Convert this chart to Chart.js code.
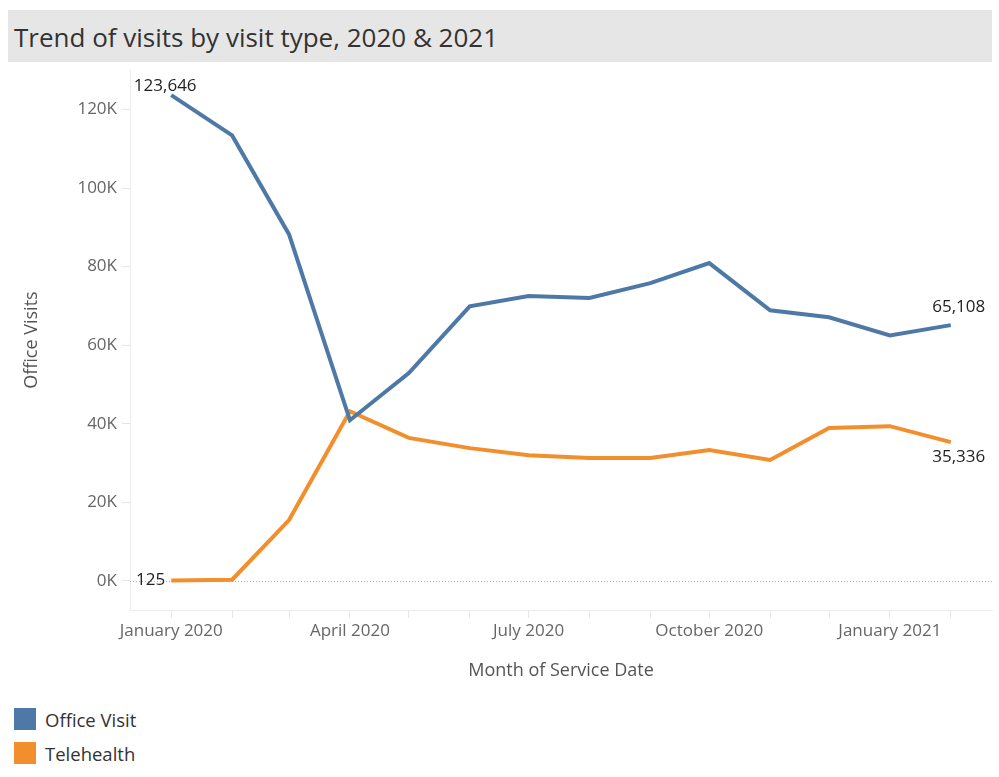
<!DOCTYPE html>
<html>
<head>
<meta charset="utf-8">
<script src="https://cdn.jsdelivr.net/npm/chart.js@4"></script>
<style>
  body { margin: 0; background: #fff; font-family: "Open Sans", sans-serif; }
  #title {
    position: absolute; left: 8px; top: 10px; width: 984px; height: 52px;
    background: #e6e6e6; color: #333; font-size: 26px; line-height: 54px;
    padding-left: 6px; box-sizing: border-box; z-index: 1;
  }
  #wrap { position: absolute; left: 0; top: 55px; width: 999px; height: 637px; }
  #legend { position: absolute; left: 14px; top: 702px; font-size: 18.5px; color: #333; }
  .item { display: flex; align-items: center; height: 34px; }
  .swatch { width: 22px; height: 22px; margin-right: 9px; }
</style>
</head>
<body>
<div id="title">Trend of visits by visit type, 2020 &amp; 2021</div>
<div id="wrap"><canvas id="chart"></canvas></div>
<div id="legend"></div>
<script>
// months of service date (first day of each month)
const months = ['2020-01', '2020-02', '2020-03', '2020-04', '2020-05', '2020-06', '2020-07',
  '2020-08', '2020-09', '2020-10', '2020-11', '2020-12', '2021-01', '2021-02'];
const tickLabels = ['January 2020', 'April 2020', 'July 2020', 'October 2020', 'January 2021'];
const officeVisit = [123646, 113400, 88200, 40900, 52900, 69900, 72500, 72000, 75800, 80900, 68900, 67100, 62500, 65108];
const telehealth = [125, 300, 15500, 43200, 36400, 33800, 32000, 31300, 31300, 33300, 30800, 38900, 39400, 35336];
const seriesNames = ['Office Visit', 'Telehealth'];
const colors = ['#4e79a7', '#f28e2b'];
const yTicks = [0, 20000, 40000, 60000, 80000, 100000, 120000];

const start = Date.UTC(2020, 0, 1);
const dayOf = m => {
  const [y, mo] = m.split('-').map(Number);
  return (Date.UTC(y, mo - 1, 1) - start) / 86400000;
};
const days = months.map(dayOf);
const monthName = m => {
  const [y, mo] = m.split('-').map(Number);
  return new Date(Date.UTC(y, mo - 1, 1)).toLocaleString('en-US', { month: 'long', timeZone: 'UTC' }) + ' ' + y;
};

const fmt = v => v.toLocaleString('en-US');

// dotted zero line + end labels
const extras = {
  id: 'extras',
  beforeDatasetsDraw(chart) {
    const { ctx, chartArea, scales } = chart;
    const y0 = scales.y.getPixelForValue(0);
    ctx.save();
    ctx.strokeStyle = '#b0b0b0';
    ctx.lineWidth = 1;
    ctx.setLineDash([1, 2]);
    ctx.beginPath();
    ctx.moveTo(chartArea.left, Math.round(y0) + 0.5);
    ctx.lineTo(chartArea.right, Math.round(y0) + 0.5);
    ctx.stroke();
    ctx.restore();
  },
  afterDatasetsDraw(chart) {
    const { ctx } = chart;
    ctx.save();
    ctx.font = '17px "Open Sans"';
    ctx.fillStyle = '#222';
    const a = chart.getDatasetMeta(0).data;
    const b = chart.getDatasetMeta(1).data;
    const last = months.length - 1;
    ctx.textAlign = 'center';
    ctx.textBaseline = 'bottom';
    ctx.fillText(fmt(officeVisit[0]), a[0].x - 6, a[0].y - 1);
    ctx.fillText(fmt(officeVisit[last]), a[last].x + 8, a[last].y - 9);
    ctx.textBaseline = 'top';
    ctx.fillText(fmt(telehealth[last]), b[last].x + 8, b[last].y + 7);
    ctx.textAlign = 'right';
    ctx.textBaseline = 'middle';
    ctx.fillText(fmt(telehealth[0]), b[0].x - 6, b[0].y);
    ctx.restore();
  }
};

const mk = (i, vals) => ({
  label: seriesNames[i],
  data: vals.map((v, k) => ({ x: days[k], y: v })),
  borderColor: colors[i],
  backgroundColor: colors[i],
  borderWidth: 4,
  pointRadius: 0,
  tension: 0,
});

new Chart(document.getElementById('chart'), {
  type: 'line',
  data: { datasets: [mk(0, officeVisit), mk(1, telehealth)] },
  options: {
    responsive: true,
    maintainAspectRatio: false,
    animation: false,
    layout: { padding: { top: 4, right: 7, bottom: 0, left: 0 } },
    plugins: { legend: { display: false }, tooltip: { enabled: false } },
    scales: {
      x: {
        type: 'linear',
        min: -21,
        max: 418,
        afterBuildTicks: s => { s.ticks = days.map(v => ({ value: v })); },
        afterFit: s => { s.height = 82; },
        grid: { drawOnChartArea: false, tickLength: 8, tickColor: '#e6e6e6' },
        border: { color: '#ececec' },
        ticks: {
          autoSkip: false, maxRotation: 0, padding: 3,
          color: '#666', font: { family: 'Open Sans', size: 17 },
          callback: (v, i) => {
            const name = monthName(months[i]);
            return tickLabels.includes(name) ? name : '';
          }
        },
        title: { display: true, text: 'Month of Service Date', color: '#555', font: { family: 'Open Sans', size: 18 }, padding: { top: 2, bottom: 10 } }
      },
      y: {
        min: -7400,
        max: 130000,
        afterBuildTicks: s => { s.ticks = yTicks.map(v => ({ value: v })); },
        afterFit: s => { s.width = 130; },
        grid: { drawOnChartArea: false, tickLength: 8, tickColor: '#e6e6e6' },
        border: { color: '#ececec' },
        ticks: {
          padding: 5, color: '#666', font: { family: 'Open Sans', size: 17 },
          callback: v => (v / 1000) + 'K'
        },
        title: { display: true, text: 'Office Visits', color: '#555', font: { family: 'Open Sans', size: 18 }, padding: { top: 21 } }
      }
    }
  },
  plugins: [extras]
});

document.getElementById('legend').innerHTML = seriesNames.map((n, i) =>
  `<div class="item"><div class="swatch" style="background:${colors[i]}"></div>${n}</div>`).join('');
</script>
</body>
</html>
